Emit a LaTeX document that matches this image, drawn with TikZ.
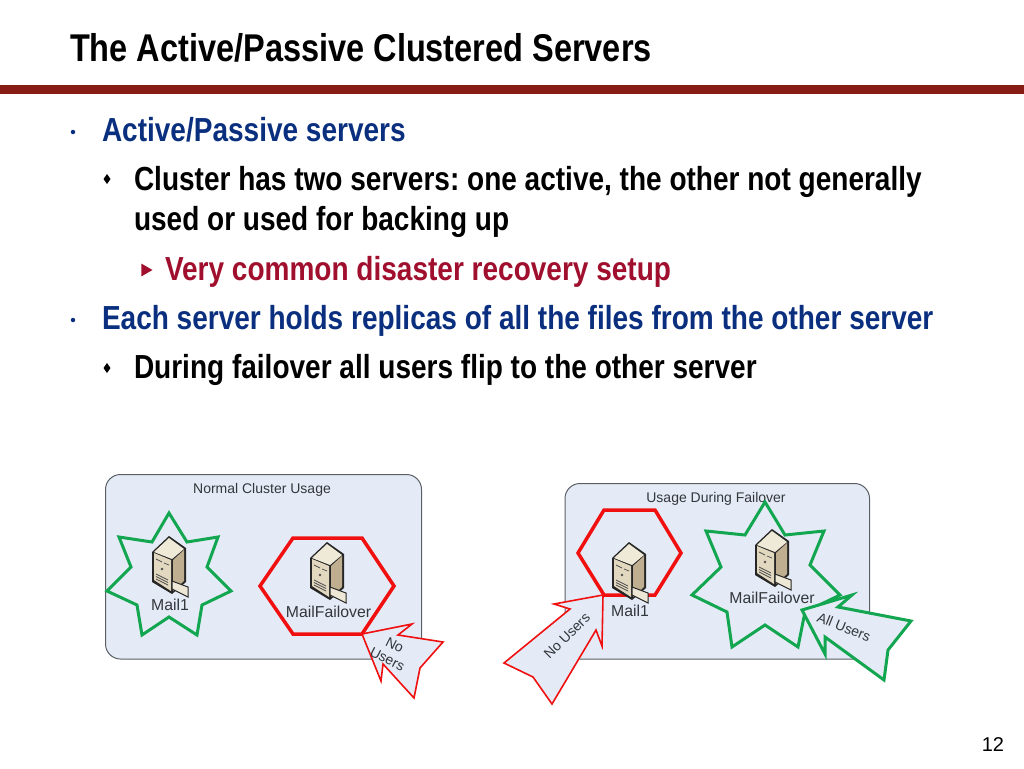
\documentclass[tikz,border=0pt]{standalone}
\usepackage{fontspec}
\setmainfont{Liberation Sans}
\newfontface\slidefont[FakeStretch=0.84]{Liberation Sans Bold}
\usetikzlibrary{shapes.geometric}

\definecolor{barred}{HTML}{861C14}
\definecolor{headblue}{HTML}{0A2F7F}
\definecolor{notered}{HTML}{A00F2D}
\definecolor{panelblue}{HTML}{E5EBF6}
\definecolor{panelline}{HTML}{5A5F66}
\definecolor{okgreen}{HTML}{12A650}
\definecolor{downred}{HTML}{F01010}
\definecolor{labelgray}{HTML}{33363B}
\definecolor{servertop}{HTML}{EFE9D8}
\definecolor{serverfront}{HTML}{E2D8C0}
\definecolor{serverside}{HTML}{BFAE90}
\definecolor{servercard}{HTML}{EDE7D6}

\tikzset{
	pics/serverbox/.style={code={
		\fill[black!85] (16,-1)--(-1,15)--(-1,45)--(19,57)--(33,45)--(33,11)--cycle;
		\fill[servertop] (16,1)--(1,15)--(19,22)--(31,12)--cycle;
		\fill[serverfront] (1,16)--(18,23)--(18,54)--(1,43)--cycle;
		\fill[serverside] (20,23)--(31,13)--(31,44)--(20,54)--cycle;
		\draw[black!70, line width=0.7pt] (3,22)--(9,25) (11,26)--(16,28);
		\draw[black!70, line width=0.7pt] (3,37)--(15,43) (3,39.5)--(15,45.5) (3,42)--(15,48);
		\fill[black!70] (9,32) circle (1.4);
		\draw[fill=servercard, draw=black!85, line width=1pt] (19,44)--(35,50)--(35,60)--(19,52)--cycle;
	}}
}

\begin{document}
\frenchspacing
\begin{tikzpicture}[x=1pt, y=-1pt]
	\tikzstyle{every node} = [inner sep=0pt, outer sep=0pt]
	\tikzstyle{slidetext} = [anchor=base west, font=\slidefont\fontsize{33.35}{38}\selectfont]
	\tikzstyle{smalltext} = [font=\fontsize{14}{16}\selectfont, text=labelgray, align=center]
	\tikzstyle{boxname} = [font=\fontsize{15.8}{18}\selectfont, text=labelgray]
	\tikzstyle{panel} = [fill=panelblue, draw=panelline, line width=1pt, rounded corners=15pt]
	\tikzstyle{upshape} = [draw=okgreen, line width=3pt, miter limit=10]
	\tikzstyle{downshape} = [draw=downred, line width=3.5pt, miter limit=10]
	\tikzstyle{dotmark} = [circle, fill=headblue, minimum size=4.5pt]
	\tikzstyle{diamark} = [diamond, fill=black, minimum width=7pt, minimum height=10pt]
	\useasboundingbox (0,0) rectangle (1024,768);

	% title
	\node[slidetext, font=\slidefont\fontsize{38.7}{42}\selectfont] (title) at (70,62) {The Active/Passive Clustered Servers};
	\fill[barred] (0,85) rectangle (1024,94);

	% bullets
	\node[dotmark] (dot1) at (73,132) {};
	\node[slidetext, text=headblue] (head1) at (102,141) {Active/Passive servers};
	\node[diamark] (dia1) at (107,179) {};
	\node[slidetext] (line1) at (134,190) {Cluster has two servers: one active, the other not generally};
	\node[slidetext] (line2) at (134,230) {used or used for backing up};
	\node[regular polygon, regular polygon sides=3, shape border rotate=-90, fill=notered, minimum size=15pt] (tri1) at (145,270) {};
	\node[slidetext, text=notered] (note1) at (165,280) {Very common disaster recovery setup};
	\node[dotmark] (dot2) at (73,320) {};
	\node[slidetext, text=headblue] (head2) at (102,329) {Each server holds replicas of all the files from the other server};
	\node[diamark] (dia2) at (107,368) {};
	\node[slidetext] (line3) at (134,378) {During failover all users flip to the other server};

	% normal cluster usage
	\draw[panel] (105.5,474.5) rectangle (421.5,659);
	\node[smalltext] (normal) at (262,489.5) {Normal Cluster Usage};
	\draw[upshape] (169,513)--(187,542)--(218,537)--(207,567)--(231,591)--(202,605)--(197,635)--(169,617)--(142,635)--(137,605)--(107,591)--(131,567)--(119,537)--(152,542)--cycle;
	\draw[downshape] (293,538)--(362,538)--(394,586)--(362,634)--(293,634)--(260,586)--cycle;
	\pic at (153,537) {serverbox};
	\pic at (311,543) {serverbox};
	\node[boxname] (mail1a) at (170,605) {Mail1};
	\node[boxname] (failovera) at (328.5,611.5) {MailFailover};
	\draw[draw=downred, fill=panelblue, line width=1.6pt, miter limit=10] (362,634)--(412,624)--(398,635)--(443,642)--(420,668)--(414,698)--(383,664)--(381,681)--cycle;
	\node[smalltext, rotate=-27] (nousersa) at (391,652) {No\\Users};

	% usage during failover
	\draw[panel] (565,483.5) rectangle (869.5,659);
	\node[smalltext] (during) at (716,498.5) {Usage During Failover};
	\draw[downshape] (604,510)--(655,510)--(681,553)--(655,595)--(604,595)--(578,553)--cycle;
	\draw[upshape] (765,502)--(785,535)--(824,531)--(810,565)--(840,595)--(805,612)--(798,647)--(765,625)--(732,647)--(727,612)--(692,595)--(721,567)--(706,531)--(745,535)--cycle;
	\pic at (613,543) {serverbox};
	\pic at (756,530) {serverbox};
	\node[boxname] (mail1b) at (630,610.5) {Mail1};
	\node[boxname] (failoverb) at (772,598) {MailFailover};
	\draw[draw=downred, fill=panelblue, line width=1.6pt, miter limit=10] (603,595)--(554,604)--(570,609)--(504,663)--(533,677)--(552,704)--(596,630)--(602,646)--cycle;
	\node[smalltext, rotate=45] (nousersb) at (567,636) {No Users};
	\draw[draw=okgreen, fill=panelblue, line width=3pt, miter limit=10] (802,610)--(852,595)--(838,607)--(911,621)--(888,650)--(884,680)--(825,637)--(825,654)--cycle;
	\node[smalltext, rotate=-22] (allusers) at (844,627) {All Users};

	% page number
	\node[anchor=base east, font=\fontsize{20}{24}\selectfont] (pagenum) at (1004,751) {12};
\end{tikzpicture}
\end{document}
